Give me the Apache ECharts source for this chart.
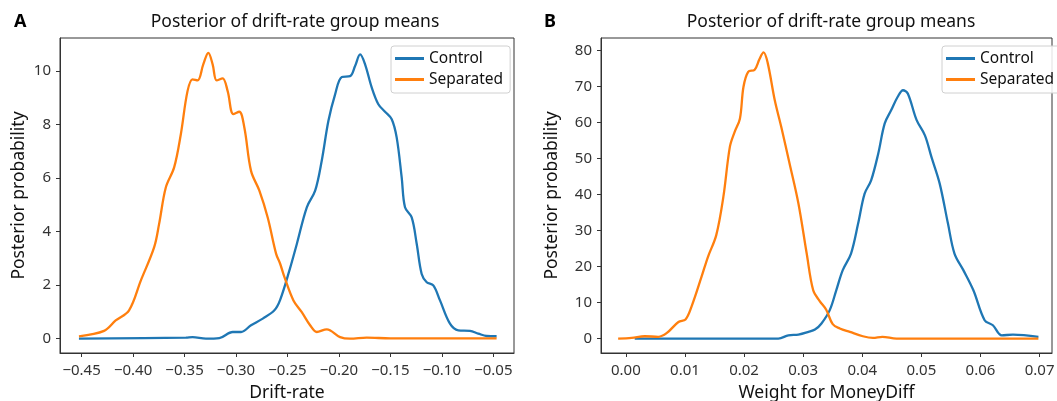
<!DOCTYPE html>
<html>
<head>
<meta charset="utf-8">
<script src="https://cdn.jsdelivr.net/npm/echarts@6/dist/echarts.min.js"></script>
<style>
  html, body { margin: 0; padding: 0; background: #fff; }
  #chart { width: 1057px; height: 401px; }
</style>
</head>
<body>
<div id="chart"></div>
<script>
// panel A: drift-rate posteriors
const driftControlX = [-0.4526, -0.3487, -0.3422, -0.3292, -0.3162, -0.3032, -0.2951, -0.2854, -0.2740, -0.2627, -0.2571, -0.2481, -0.2409, -0.2312, -0.2231, -0.2167, -0.2102, -0.2037, -0.1972, -0.1892, -0.1843, -0.1794, -0.1746, -0.1681, -0.1617, -0.1552, -0.1487, -0.1439, -0.1390, -0.1358, -0.1293, -0.1244, -0.1196, -0.1147, -0.1083, -0.1018, -0.0921, -0.0840, -0.0727, -0.0646, -0.0565, -0.0468];
const driftControlY = [0, 0.04, 0.06, 0, 0.02, 0.25, 0.25, 0.50, 0.75, 1.06, 1.45, 2.55, 3.54, 4.91, 5.53, 6.65, 8.14, 9.13, 9.78, 9.81, 10.19, 10.62, 10.25, 9.38, 8.76, 8.48, 8.20, 7.52, 6.02, 4.91, 4.53, 3.54, 2.42, 2.11, 1.99, 1.43, 0.56, 0.31, 0.29, 0.19, 0.10, 0.09];
const driftSepX = [-0.4526, -0.4282, -0.4169, -0.4039, -0.3925, -0.3795, -0.3747, -0.3682, -0.3601, -0.3536, -0.3471, -0.3422, -0.3373, -0.3318, -0.3269, -0.3227, -0.3188, -0.3130, -0.3081, -0.3026, -0.2968, -0.2919, -0.2854, -0.2773, -0.2692, -0.2610, -0.2571, -0.2529, -0.2442, -0.2361, -0.2280, -0.2215, -0.2118, -0.1989, -0.1892, -0.1730, -0.1500, -0.1000, -0.0468];
const driftSepY = [0.09, 0.29, 0.68, 1.06, 2.17, 3.42, 4.29, 5.65, 6.40, 7.64, 9.25, 9.69, 9.65, 10.25, 10.68, 10.25, 9.65, 9.73, 9.25, 8.39, 8.48, 7.89, 6.27, 5.53, 4.53, 3.17, 2.80, 2.30, 1.43, 0.99, 0.50, 0.25, 0.35, 0.06, 0.0, 0.04, 0.01, 0.01, 0.01];
const driftXTicks = [-0.45, -0.40, -0.35, -0.30, -0.25, -0.20, -0.15, -0.10, -0.05];
const driftYTicks = [0, 2, 4, 6, 8, 10];

// panel B: MoneyDiff weight posteriors
const moneyControlX = [0.0015, 0.0258, 0.0275, 0.0292, 0.0309, 0.0320, 0.0331, 0.0345, 0.0356, 0.0367, 0.0381, 0.0393, 0.0404, 0.0415, 0.0427, 0.0438, 0.0449, 0.0460, 0.0469, 0.0477, 0.0492, 0.0506, 0.0517, 0.0531, 0.0545, 0.0556, 0.0571, 0.0588, 0.0607, 0.0621, 0.0636, 0.0655, 0.0698];
const moneyControlY = [0, 0, 0.9, 1.1, 1.85, 2.5, 4.2, 7.9, 13.4, 19.0, 23.6, 31.9, 40.2, 43.9, 51.3, 59.7, 63.4, 67.1, 68.9, 68.0, 60.6, 56.4, 50.4, 43.0, 31.9, 23.6, 19.0, 13.4, 5.1, 3.7, 0.9, 1.1, 0.5];
const moneySepX = [-0.0013, 0.0010, 0.0032, 0.0055, 0.0069, 0.0089, 0.0101, 0.0111, 0.0128, 0.0139, 0.0153, 0.0165, 0.0176, 0.0184, 0.0193, 0.0199, 0.0207, 0.0218, 0.0226, 0.0233, 0.0240, 0.0252, 0.0263, 0.0277, 0.0292, 0.0306, 0.0317, 0.0328, 0.0339, 0.0350, 0.0362, 0.0379, 0.0401, 0.0418, 0.0434, 0.0458, 0.0550, 0.0698];
const moneySepY = [0.0, 0.2, 0.65, 0.5, 1.5, 4.6, 5.3, 8.8, 17.1, 22.7, 28.7, 39.3, 53.2, 57.3, 61.0, 69.8, 74.0, 74.6, 77.5, 79.4, 76.5, 66.1, 58.7, 48.6, 37.5, 23.6, 13.4, 10.4, 8.0, 4.0, 2.8, 1.85, 0.65, 0.2, 0.5, 0.0, 0.0, 0.0];
const moneyXTicks = [0, 0.01, 0.02, 0.03, 0.04, 0.05, 0.06, 0.07];
const moneyYTicks = [0, 10, 20, 30, 40, 50, 60, 70, 80];

const BLUE = '#1f77b4';
const ORANGE = '#ff7f0e';
const FONT = 'Noto Sans';

function pairs(xs, ys) {
    return xs.map((x, i) => [x, ys[i]]);
}
function fmtX(v) {
    return (v < 0 ? '\u2212' : '') + Math.abs(v).toFixed(2);
}

function xAxisOf(gridIndex, min, max, ticks, name) {
    return {
        type: 'value', gridIndex: gridIndex, min: min, max: max,
        name: name, nameLocation: 'middle', nameGap: 31,
        nameTextStyle: { fontFamily: FONT, fontSize: 17.5, color: '#111' },
        axisLine: { show: true, onZero: false, lineStyle: { color: '#333', width: 1 } },
        axisTick: { show: true, inside: false, length: 4, customValues: ticks, lineStyle: { color: '#333' } },
        axisLabel: { customValues: ticks, formatter: fmtX, margin: 10, fontFamily: FONT, fontSize: 15, color: '#333' },
        splitLine: { show: false }
    };
}
function yAxisOf(gridIndex, min, max, ticks, nameGap) {
    return {
        type: 'value', gridIndex: gridIndex, min: min, max: max,
        name: 'Posterior probability', nameLocation: 'middle', nameGap: nameGap,
        nameTextStyle: { fontFamily: FONT, fontSize: 17.5, color: '#111' },
        axisLine: { show: true, onZero: false, lineStyle: { color: '#333', width: 1 } },
        axisTick: { show: true, inside: false, length: 4, customValues: ticks, lineStyle: { color: '#333' } },
        axisLabel: { customValues: ticks, margin: 9, fontFamily: FONT, fontSize: 15, color: '#333' },
        splitLine: { show: false }
    };
}
function lineOf(name, color, xIndex, data) {
    return {
        name: name, type: 'line', xAxisIndex: xIndex, yAxisIndex: xIndex,
        data: data, showSymbol: false, smooth: 0.35,
        lineStyle: { color: color, width: 2.3 }, itemStyle: { color: color },
        animation: false
    };
}
function legendOf(left) {
    return {
        orient: 'vertical', left: left, top: 46,
        data: ['Control', 'Separated'],
        icon: 'rect', itemWidth: 29, itemHeight: 3, itemGap: 4,
        padding: [4, 7, 5, 4],
        borderColor: '#d0d0d0', borderWidth: 1, borderRadius: 3,
        backgroundColor: 'rgba(255,255,255,0.85)',
        textStyle: { fontFamily: FONT, fontSize: 15.5, color: '#111', lineHeight: 17 }
    };
}

const chart = echarts.init(document.getElementById('chart'), null, { renderer: 'canvas' });
chart.setOption({
    animation: false,
    backgroundColor: '#fff',
    title: [
        { text: 'A', left: 9, top: 8, textStyle: { fontFamily: FONT, fontSize: 18, fontWeight: 'bold', color: '#000' } },
        { text: 'B', left: 539, top: 8, textStyle: { fontFamily: FONT, fontSize: 18, fontWeight: 'bold', color: '#000' } },
        { text: 'Posterior of drift-rate group means', left: 290, top: 8, textAlign: 'center',
          textStyle: { fontFamily: FONT, fontSize: 17.5, fontWeight: 'normal', color: '#111' } },
        { text: 'Posterior of drift-rate group means', left: 826, top: 8, textAlign: 'center',
          textStyle: { fontFamily: FONT, fontSize: 17.5, fontWeight: 'normal', color: '#111' } }
    ],
    legend: [legendOf(391), legendOf(942)],
    grid: [
        { left: 60, top: 38, width: 454, height: 315, outerBoundsMode: 'none', containLabel: false,
          show: true, borderColor: '#333', borderWidth: 1 },
        { left: 601, top: 38, width: 451, height: 315, outerBoundsMode: 'none', containLabel: false,
          show: true, borderColor: '#333', borderWidth: 1 }
    ],
    xAxis: [
        xAxisOf(0, -0.4710, -0.0299, driftXTicks, 'Drift-rate'),
        xAxisOf(1, -0.0042, 0.0721, moneyXTicks, 'Weight for MoneyDiff')
    ],
    yAxis: [
        yAxisOf(0, -0.535, 11.235, driftYTicks, 32),
        yAxisOf(1, -4.0, 83.4, moneyYTicks, 40)
    ],
    series: [
        lineOf('Control', BLUE, 0, pairs(driftControlX, driftControlY)),
        lineOf('Separated', ORANGE, 0, pairs(driftSepX, driftSepY)),
        lineOf('Control', BLUE, 1, pairs(moneyControlX, moneyControlY)),
        lineOf('Separated', ORANGE, 1, pairs(moneySepX, moneySepY))
    ]
});
</script>
</body>
</html>
